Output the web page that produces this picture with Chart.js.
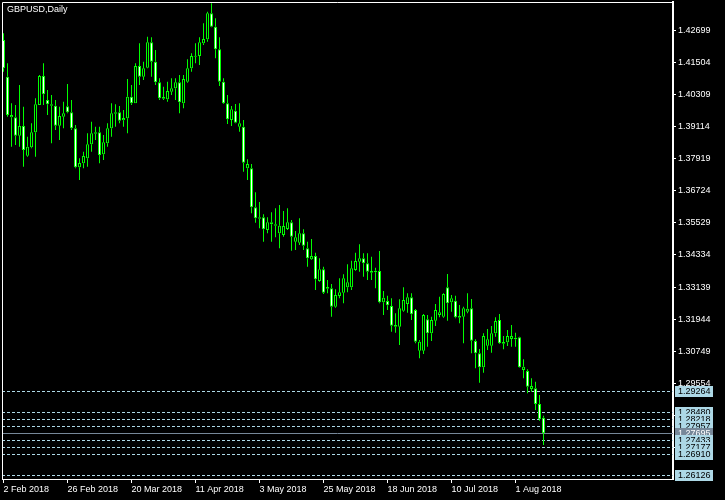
<!DOCTYPE html>
<html>
<head>
<meta charset="utf-8">
<title>GBPUSD,Daily</title>
<script src="https://cdn.jsdelivr.net/npm/chart.js@4.4.1/dist/chart.umd.min.js"></script>
<style>
    html, body { margin: 0; padding: 0; background: #000; }
    canvas { display: block; }
</style>
</head>
<body>
<canvas id="grafico" width="725" height="500"></canvas>
<script>
const simbolo = "GBPUSD,Daily";

// etiquetas del eje de tiempo, una cada 16 velas
const tickLabels = ["2 Feb 2018", "26 Feb 2018", "20 Mar 2018", "11 Apr 2018", "3 May 2018",
    "25 May 2018", "18 Jun 2018", "10 Jul 2018", "1 Aug 2018"];
const velasPorTick = 16;

const priceTicks = [1.42699, 1.41504, 1.40309, 1.39114, 1.37919, 1.36724, 1.35529, 1.34334,
    1.33139, 1.31944, 1.30749, 1.29554, 1.28359, 1.27164];

// niveles horizontales (lineas punteadas) y precio bid
const niveles = [1.29264, 1.28480, 1.28218, 1.27957, 1.27433, 1.27177, 1.26910, 1.26126];
const bid = 1.27695;

const opens = [1.42338, 1.40973, 1.39459, 1.39459, 1.38776, 1.39136, 1.38032, 1.38342, 1.38900, 1.39918,
    1.40998, 1.40104, 1.39943, 1.39893, 1.39148, 1.39484, 1.39868, 1.39645, 1.39049, 1.37597,
    1.37746, 1.37932, 1.38454, 1.38851, 1.38900, 1.38081, 1.38491, 1.39049, 1.39595, 1.39645,
    1.39347, 1.39421, 1.40228, 1.39980, 1.41370, 1.40973, 1.41308, 1.42251, 1.41531, 1.40762,
    1.40216, 1.40129, 1.40414, 1.40538, 1.40762, 1.39980, 1.40787, 1.41283, 1.41717, 1.41742,
    1.42214, 1.42363, 1.43331, 1.42834, 1.41990, 1.40787, 1.39980, 1.39359, 1.39707, 1.39111,
    1.39111, 1.37560, 1.37560, 1.36108, 1.35736, 1.35736, 1.35264, 1.35475, 1.35475, 1.35140,
    1.35078, 1.35301, 1.35550, 1.34830, 1.34793, 1.35140, 1.34582, 1.34172, 1.34296, 1.33365,
    1.33800, 1.33142, 1.33092, 1.32410, 1.32807, 1.32931, 1.33130, 1.33130, 1.33775, 1.34085,
    1.34209, 1.34023, 1.33738, 1.33688, 1.33738, 1.32571, 1.32621, 1.32435, 1.31727, 1.31665,
    1.32261, 1.32509, 1.32757, 1.32286, 1.30772, 1.30772, 1.31938, 1.31417, 1.31889, 1.32100,
    1.32038, 1.33130, 1.32571, 1.32633, 1.32062, 1.32038, 1.32224, 1.32348, 1.31132, 1.30672,
    1.30151, 1.30958, 1.30958, 1.31417, 1.31913, 1.31094, 1.31082, 1.31206, 1.31256, 1.31268,
    1.30052, 1.30015, 1.29345, 1.29369, 1.28786, 1.28277];

const highs = [1.42586, 1.41469, 1.39980, 1.39918, 1.40662, 1.39856, 1.38739, 1.39235, 1.40166, 1.41035,
    1.41469, 1.40476, 1.40290, 1.40104, 1.39856, 1.40042, 1.40700, 1.40104, 1.39173, 1.37932,
    1.38180, 1.38863, 1.39297, 1.39111, 1.39111, 1.38801, 1.39235, 1.39980, 1.39943, 1.39881,
    1.39732, 1.40886, 1.40662, 1.41469, 1.42214, 1.41531, 1.42462, 1.42437, 1.41966, 1.40911,
    1.40600, 1.40787, 1.40911, 1.40911, 1.41035, 1.41035, 1.41618, 1.41841, 1.42214, 1.42437,
    1.42958, 1.43393, 1.43703, 1.43144, 1.42437, 1.40911, 1.40290, 1.39881, 1.39955, 1.39980,
    1.39359, 1.37895, 1.37721, 1.36666, 1.36307, 1.35847, 1.35736, 1.35922, 1.36071, 1.36195,
    1.35972, 1.36071, 1.35636, 1.35227, 1.35698, 1.35289, 1.34830, 1.34929, 1.34420, 1.34209,
    1.33899, 1.33403, 1.33254, 1.33055, 1.33465, 1.33614, 1.33986, 1.34122, 1.34420, 1.34731,
    1.34395, 1.34395, 1.34271, 1.33862, 1.34482, 1.32993, 1.32819, 1.32720, 1.32162, 1.32683,
    1.33130, 1.32906, 1.32906, 1.32323, 1.31169, 1.32137, 1.32100, 1.32038, 1.32509, 1.32782,
    1.32906, 1.33626, 1.32844, 1.32819, 1.32472, 1.32410, 1.32906, 1.32695, 1.31194, 1.30834,
    1.31417, 1.31578, 1.31690, 1.32013, 1.32137, 1.31318, 1.31541, 1.31727, 1.31442, 1.31293,
    1.30449, 1.30077, 1.29742, 1.29618, 1.29121, 1.28352];

const lows = [1.41159, 1.39484, 1.38367, 1.38429, 1.38367, 1.37622, 1.37994, 1.38305, 1.37994, 1.39918,
    1.39918, 1.39546, 1.38491, 1.38987, 1.38615, 1.39049, 1.39608, 1.38987, 1.37560, 1.37126,
    1.37560, 1.37622, 1.38180, 1.38615, 1.37746, 1.37870, 1.38367, 1.38739, 1.39111, 1.39235,
    1.39111, 1.38863, 1.39918, 1.39980, 1.40662, 1.40849, 1.41283, 1.40973, 1.40662, 1.40104,
    1.40104, 1.40042, 1.40290, 1.40104, 1.39608, 1.39794, 1.40749, 1.41159, 1.41469, 1.41407,
    1.42152, 1.42276, 1.42809, 1.41655, 1.40625, 1.39955, 1.39211, 1.39136, 1.39235, 1.38925,
    1.37436, 1.37126, 1.35885, 1.35537, 1.35326, 1.34830, 1.35140, 1.34830, 1.34991, 1.34582,
    1.35016, 1.35264, 1.34495, 1.34520, 1.34706, 1.34520, 1.33899, 1.34147, 1.33030, 1.33341,
    1.32881, 1.32906, 1.32038, 1.32373, 1.32720, 1.32534, 1.32943, 1.33030, 1.33750, 1.33713,
    1.33527, 1.33403, 1.33403, 1.33092, 1.32534, 1.32100, 1.32286, 1.31479, 1.31442, 1.30983,
    1.32224, 1.32186, 1.31913, 1.31045, 1.30486, 1.30648, 1.30921, 1.31132, 1.31690, 1.32013,
    1.32001, 1.31889, 1.32224, 1.31975, 1.31789, 1.31045, 1.32162, 1.30672, 1.30114, 1.29580,
    1.29953, 1.30797, 1.30697, 1.31293, 1.31020, 1.30821, 1.30945, 1.30921, 1.30921, 1.30139,
    1.29742, 1.29183, 1.29245, 1.28563, 1.28166, 1.27260];

const closes = [1.41283, 1.39546, 1.39546, 1.38776, 1.39136, 1.38243, 1.38367, 1.38900, 1.39943, 1.40998,
    1.40315, 1.39943, 1.39893, 1.39148, 1.39508, 1.39608, 1.39645, 1.39049, 1.37597, 1.37759,
    1.38019, 1.38454, 1.38863, 1.38900, 1.38056, 1.38528, 1.39049, 1.39608, 1.39645, 1.39335,
    1.39434, 1.40228, 1.39980, 1.41370, 1.40973, 1.41283, 1.42251, 1.41531, 1.40762, 1.40166,
    1.40154, 1.40439, 1.40538, 1.40762, 1.40017, 1.40886, 1.41283, 1.41742, 1.41742, 1.42251,
    1.42375, 1.43331, 1.42834, 1.41990, 1.40787, 1.39980, 1.39384, 1.39757, 1.39260, 1.39235,
    1.37771, 1.37721, 1.36108, 1.35698, 1.35686, 1.35289, 1.35550, 1.35550, 1.35425, 1.35425,
    1.35413, 1.35550, 1.35016, 1.34991, 1.35140, 1.34681, 1.34209, 1.34296, 1.33427, 1.33800,
    1.32931, 1.33080, 1.32410, 1.32844, 1.32943, 1.33465, 1.33316, 1.33837, 1.34110, 1.34209,
    1.34023, 1.33713, 1.33676, 1.33750, 1.32571, 1.32745, 1.32459, 1.31702, 1.31665, 1.32348,
    1.32658, 1.32757, 1.32124, 1.31107, 1.31107, 1.32100, 1.31417, 1.31913, 1.32286, 1.32199,
    1.32881, 1.32534, 1.32720, 1.32013, 1.32001, 1.32348, 1.32335, 1.31144, 1.30672, 1.30151,
    1.31318, 1.31194, 1.31417, 1.31876, 1.31045, 1.31032, 1.31318, 1.31318, 1.31194, 1.30151,
    1.30176, 1.29431, 1.29456, 1.28786, 1.28215, 1.27694];

const verde = "#00ff00";
const blanco = "#ffffff";
const azulClaro = "#add8e6";
const grisBid = "#778899";
const fuente = { family: "'Liberation Sans', Arial, sans-serif", size: 9 };
const fuenteCss = "9px 'Liberation Sans', Arial, sans-serif";

// cuerpo entre apertura y cierre; mechas arriba y abajo del cuerpo
const cuerpos = opens.map((o, i) => ({ x: i, y: [o, closes[i]] }));
const mechasAltas = highs.map((h, i) => ({ x: i, y: [Math.max(opens[i], closes[i]), h] }));
const mechasBajas = lows.map((l, i) => ({ x: i, y: [l, Math.min(opens[i], closes[i])] }));

const estiloMecha = {
    grouped: false,
    barThickness: 1,
    borderWidth: 0,
    inflateAmount: 0,
    backgroundColor: verde,
};

// marco, lineas de niveles y cajas de precio al estilo MT4
const estiloMT4 = {
    id: "estiloMT4",
    beforeDatasetsDraw(chart) {
        const { ctx, chartArea, scales } = chart;
        ctx.save();
        ctx.lineWidth = 1;
        niveles.forEach((v) => {
            const y = Math.round(scales.y.getPixelForValue(v)) + 0.5;
            ctx.strokeStyle = azulClaro;
            ctx.setLineDash([3, 2]);
            ctx.beginPath();
            ctx.moveTo(chartArea.left, y);
            ctx.lineTo(chartArea.right, y);
            ctx.stroke();
        });
        const yb = Math.round(scales.y.getPixelForValue(bid)) + 0.5;
        ctx.setLineDash([]);
        ctx.strokeStyle = grisBid;
        ctx.beginPath();
        ctx.moveTo(chartArea.left, yb);
        ctx.lineTo(chartArea.right, yb);
        ctx.stroke();
        ctx.restore();
    },
    afterDraw(chart) {
        const { ctx, chartArea, scales } = chart;
        ctx.save();
        ctx.strokeStyle = blanco;
        ctx.lineWidth = 1;
        ctx.beginPath();
        ctx.moveTo(chartArea.left + 0.5, chartArea.bottom);
        ctx.lineTo(chartArea.left + 0.5, chartArea.top + 0.5);
        ctx.lineTo(chartArea.right, chartArea.top + 0.5);
        ctx.stroke();

        ctx.fillStyle = blanco;
        ctx.font = fuenteCss;
        ctx.textBaseline = "middle";
        ctx.textAlign = "left";
        ctx.fillText(simbolo, chartArea.left + 5, chartArea.top + 8);

        const cajas = niveles.map((v) => ({ v, fondo: azulClaro, texto: "#000" }));
        cajas.push({ v: bid, fondo: grisBid, texto: blanco });
        cajas.sort((a, b) => b.v - a.v);
        cajas.forEach((c) => {
            const y = Math.round(scales.y.getPixelForValue(c.v));
            ctx.fillStyle = c.fondo;
            ctx.fillRect(chartArea.right + 2, y - 5, 38, 11);
            ctx.fillStyle = c.texto;
            ctx.fillText(c.v.toFixed(5), chartArea.right + 5, y + 0.5);
        });
        ctx.restore();
    },
};

new Chart(document.getElementById("grafico"), {
    type: "bar",
    data: {
        datasets: [
            {
                label: "cuerpo",
                data: cuerpos,
                order: 0,
                grouped: false,
                barThickness: 3,
                minBarLength: 1,
                borderWidth: 1,
                borderSkipped: false,
                inflateAmount: 0,
                borderColor: verde,
                backgroundColor: (ctx) => (closes[ctx.dataIndex] < opens[ctx.dataIndex] ? blanco : "#000"),
            },
            { label: "mecha alta", data: mechasAltas, order: 1, ...estiloMecha },
            { label: "mecha baja", data: mechasBajas, order: 1, ...estiloMecha },
        ],
    },
    options: {
        responsive: false,
        animation: false,
        events: [],
        layout: { padding: { left: 2, top: 2, right: 0, bottom: 0 } },
        scales: {
            x: {
                type: "linear",
                offset: false,
                min: -0.375,
                max: 167.375,
                afterFit: (scale) => {
                    scale.height = 21;
                    scale.paddingLeft = 0;
                    scale.paddingRight = 0;
                },
                afterBuildTicks: (scale) => {
                    scale.ticks = tickLabels.map((t, k) => ({ value: k * velasPorTick }));
                },
                grid: { offset: false, drawOnChartArea: false, tickLength: 4, color: blanco },
                border: { color: blanco, width: 1 },
                ticks: {
                    font: fuente,
                    color: blanco,
                    align: "start",
                    padding: 1,
                    autoSkip: false,
                    maxRotation: 0,
                    callback: (value) => tickLabels[value / velasPorTick],
                },
            },
            y: {
                position: "right",
                min: 1.25994,
                max: 1.43753,
                afterFit: (scale) => {
                    scale.width = 52;
                    scale.paddingTop = 0;
                    scale.paddingBottom = 0;
                },
                afterBuildTicks: (scale) => {
                    scale.ticks = priceTicks.map((v) => ({ value: v }));
                },
                grid: { drawOnChartArea: false, tickLength: 3, color: blanco },
                border: { color: blanco, width: 2 },
                ticks: {
                    font: fuente,
                    color: blanco,
                    padding: 2,
                    callback: (value) => value.toFixed(5),
                },
            },
        },
        plugins: {
            legend: { display: false },
            tooltip: { enabled: false },
        },
    },
    plugins: [estiloMT4],
});
</script>
</body>
</html>
